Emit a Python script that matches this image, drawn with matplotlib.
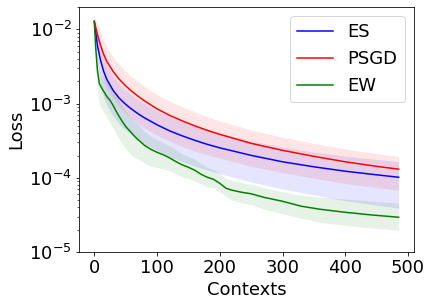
import matplotlib
matplotlib.use("Agg")
import matplotlib.pyplot as plt

plt.rcParams['font.size'] = 18

# PSGD / ES share one x grid
x_main = [0, 5, 10, 15, 20, 30, 40, 50, 60, 70, 80, 100, 120, 140, 160, 180, 200, 250, 300, 350, 400, 450, 485]

psgd_mean = [1.282e-2, 8.56e-3, 6.09e-3, 4.61e-3, 3.71e-3, 2.72e-3, 2.12e-3, 1.736e-3, 1.464e-3, 1.254e-3, 1.091e-3,
             8.51e-4, 6.96e-4, 5.87e-4, 5.03e-4, 4.37e-4, 3.86e-4, 2.92e-4, 2.35e-4, 1.95e-4, 1.647e-4, 1.43e-4, 1.31e-4]
psgd_hi = [1.474e-2, 1.198e-2, 9.14e-3, 7.15e-3, 5.75e-3, 4.24e-3, 3.33e-3, 2.73e-3, 2.30e-3, 1.97e-3, 1.71e-3,
           1.33e-3, 1.08e-3, 9.10e-4, 7.75e-4, 6.69e-4, 5.87e-4, 4.41e-4, 3.53e-4, 2.91e-4, 2.45e-4, 2.12e-4, 1.94e-4]
psgd_lo = [1.09e-2, 5.14e-3, 3.05e-3, 2.07e-3, 1.67e-3, 1.20e-3, 9.1e-4, 7.46e-4, 6.30e-4, 5.39e-4, 4.69e-4,
           3.74e-4, 3.13e-4, 2.64e-4, 2.31e-4, 2.05e-4, 1.85e-4, 1.43e-4, 1.18e-4, 9.9e-5, 8.4e-5, 7.4e-5, 6.8e-5]

es_mean = [1.282e-2, 6.09e-3, 3.83e-3, 2.72e-3, 2.12e-3, 1.51e-3, 1.179e-3, 9.79e-4, 8.38e-4, 7.29e-4, 6.44e-4,
           5.19e-4, 4.30e-4, 3.69e-4, 3.21e-4, 2.83e-4, 2.54e-4, 2.01e-4, 1.647e-4, 1.41e-4, 1.23e-4, 1.10e-4, 1.02e-4]
es_hi = [1.474e-2, 8.83e-3, 5.75e-3, 4.22e-3, 3.29e-3, 2.34e-3, 1.83e-3, 1.52e-3, 1.30e-3, 1.13e-3, 9.98e-4,
         8.04e-4, 6.67e-4, 5.72e-4, 4.98e-4, 4.39e-4, 3.94e-4, 3.14e-4, 2.59e-4, 2.23e-4, 1.97e-4, 1.77e-4, 1.65e-4]
es_lo = [1.09e-2, 3.35e-3, 1.92e-3, 1.22e-3, 9.5e-4, 6.8e-4, 5.3e-4, 4.41e-4, 3.77e-4, 3.28e-4, 2.90e-4,
         2.34e-4, 1.94e-4, 1.66e-4, 1.44e-4, 1.27e-4, 1.14e-4, 8.8e-5, 7.1e-5, 5.9e-5, 4.9e-5, 4.3e-5, 3.9e-5]

# EW has its own (denser) grid
x_ew = [0, 2, 5, 8, 12, 16, 20, 25, 30, 35, 40, 45, 50, 60, 65, 70, 80, 90, 100, 110, 120, 130, 140, 150,
        160, 170, 180, 190, 200, 210, 220, 235, 250, 270, 300, 330, 360, 400, 440, 485]
ew_mean = [1.28e-2, 6.09e-3, 2.81e-3, 1.87e-3, 1.61e-3, 1.42e-3, 1.25e-3, 1.11e-3, 9.49e-4, 7.88e-4, 6.64e-4,
           5.69e-4, 4.94e-4, 3.98e-4, 3.57e-4, 3.26e-4, 2.75e-4, 2.43e-4, 2.21e-4, 2.05e-4, 1.86e-4, 1.66e-4,
           1.50e-4, 1.39e-4, 1.27e-4, 1.12e-4, 1.02e-4, 9.57e-5, 8.45e-5, 7.24e-5, 6.81e-5, 6.40e-5, 6.11e-5,
           5.48e-5, 4.84e-5, 4.15e-5, 3.78e-5, 3.44e-5, 3.18e-5, 2.95e-5]
ew_hi = [1.41e-2, 7.9e-3, 4.2e-3, 2.8e-3, 2.42e-3, 2.2e-3, 1.94e-3, 1.78e-3, 1.52e-3, 1.26e-3, 1.06e-3,
         9.1e-4, 7.9e-4, 6.37e-4, 5.71e-4, 5.22e-4, 4.26e-4, 3.65e-4, 3.3e-4, 2.97e-4, 2.70e-4, 2.41e-4,
         2.10e-4, 1.95e-4, 1.78e-4, 1.57e-4, 1.38e-4, 1.29e-4, 1.14e-4, 9.8e-5, 9.2e-5, 8.6e-5, 8.2e-5,
         7.4e-5, 6.5e-5, 5.8e-5, 5.5e-5, 5.2e-5, 4.9e-5, 4.57e-5]
ew_lo = [1.16e-2, 4.35e-3, 1.56e-3, 9.8e-4, 8.5e-4, 7.5e-4, 6.6e-4, 5.55e-4, 4.75e-4, 3.94e-4, 3.32e-4,
         2.85e-4, 2.47e-4, 1.99e-4, 1.88e-4, 1.81e-4, 1.57e-4, 1.43e-4, 1.38e-4, 1.32e-4, 1.24e-4, 1.14e-4,
         1.03e-4, 9.9e-5, 9.1e-5, 8.3e-5, 7.6e-5, 7.4e-5, 6.5e-5, 5.6e-5, 5.0e-5, 4.6e-5, 4.4e-5,
         3.8e-5, 3.3e-5, 2.86e-5, 2.52e-5, 2.29e-5, 2.12e-5, 1.97e-5]

fig = plt.figure(figsize=(6, 4.25), dpi=72)
ax = fig.add_axes([0.183, 0.176, 0.775, 0.801])

ax.plot(x_main, es_mean, color='blue', label='ES')
ax.fill_between(x_main, es_lo, es_hi, color='blue', alpha=0.1, linewidth=0)
ax.plot(x_main, psgd_mean, color='red', label='PSGD')
ax.fill_between(x_main, psgd_lo, psgd_hi, color='red', alpha=0.1, linewidth=0)
ax.plot(x_ew, ew_mean, color='green', label='EW')
ax.fill_between(x_ew, ew_lo, ew_hi, color='green', alpha=0.1, linewidth=0)

ax.set_yscale('log')
ax.set_ylim(1e-5, 2e-2)
ax.set_xlim(-24.25, 509.25)
ax.set_xticks([0, 100, 200, 300, 400, 500])
ax.set_xlabel('Contexts')
ax.set_ylabel('Loss')
ax.legend(loc='upper right')

fig.savefig('out.png', dpi=72)
